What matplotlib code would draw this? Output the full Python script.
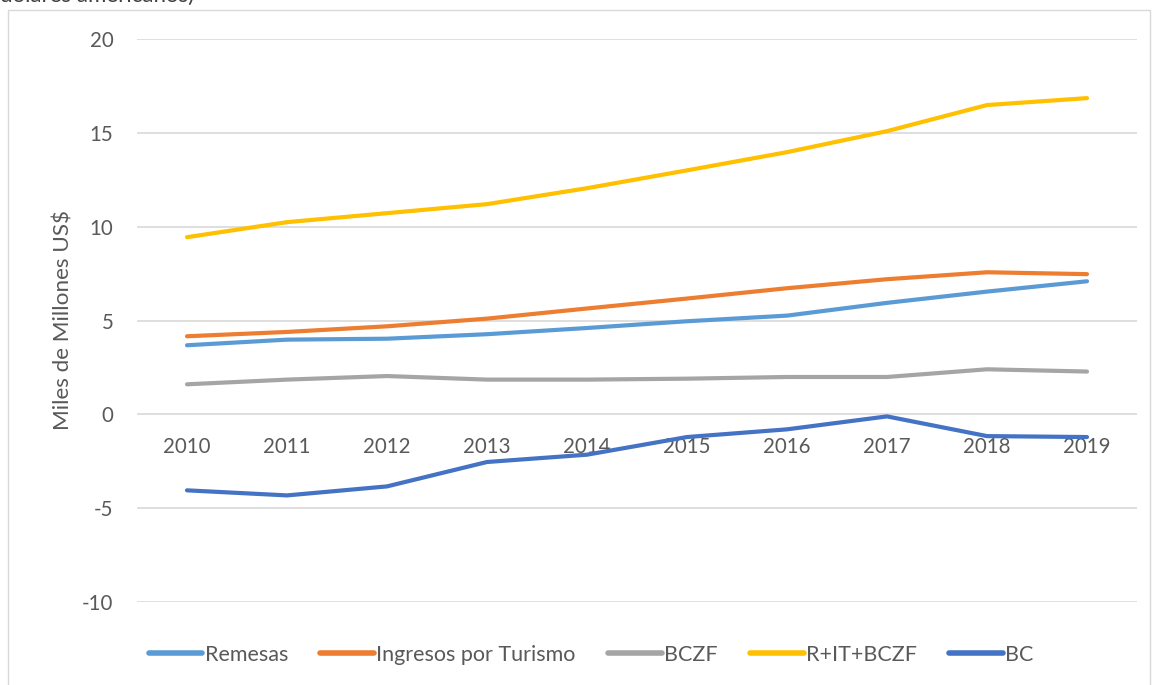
import matplotlib
matplotlib.use("Agg")
import matplotlib.pyplot as plt
import matplotlib.patches as patches

years = [2010, 2011, 2012, 2013, 2014, 2015, 2016, 2017, 2018, 2019]
remesas = [3.68, 3.98, 4.03, 4.27, 4.60, 4.96, 5.26, 5.94, 6.54, 7.09]
turismo = [4.16, 4.39, 4.69, 5.10, 5.64, 6.17, 6.72, 7.20, 7.57, 7.47]
bczf = [1.60, 1.85, 2.04, 1.85, 1.85, 1.90, 1.99, 1.99, 2.40, 2.28]
r_it_bczf = [9.44, 10.24, 10.72, 11.20, 12.05, 13.00, 13.97, 15.09, 16.48, 16.85]
bc = [-4.05, -4.32, -3.84, -2.54, -2.15, -1.21, -0.80, -0.11, -1.16, -1.21]

series = [
    ("Remesas", remesas, "#5B9BD5"),
    ("Ingresos por Turismo", turismo, "#ED7D31"),
    ("BCZF", bczf, "#A5A5A5"),
    ("R+IT+BCZF", r_it_bczf, "#FFC000"),
    ("BC", bc, "#4472C4"),
]

plt.rcParams['font.family'] = ['Lato', 'DejaVu Sans']
plt.rcParams['axes.unicode_minus'] = False
text_color = '#595959'

fig = plt.figure(figsize=(11.52, 6.85), dpi=100, facecolor='white')
ax = fig.add_axes([137 / 1152, 1 - 602 / 685, 1000 / 1152, 563 / 685])

# chart area border and the caption cut off above it
fig.patches.append(patches.Rectangle((8 / 1152, -0.05), 1142 / 1152, 1.05 - 10 / 685,
                                     transform=fig.transFigure, fill=False,
                                     edgecolor='#D9D9D9', linewidth=1))
fig.text(0.0, 1 - 2 / 685, "dólares americanos)", fontsize=16, color='#404040',
         ha='left', va='baseline')

for name, vals, color in series:
    ax.plot(years, vals, color=color, linewidth=3, label=name,
            solid_capstyle='round', solid_joinstyle='round', zorder=3)

ax.set_xlim(2009.5, 2019.5)
ax.set_ylim(-10, 20)
ax.set_yticks([-10, -5, 0, 5, 10, 15, 20])
ax.set_xticks(years)
ax.grid(True, axis='y', color='#D9D9D9', linewidth=1.2, zorder=0)
ax.set_axisbelow(True)

for s in ['top', 'right', 'left', 'bottom']:
    ax.spines[s].set_visible(False)
ax.spines['bottom'].set_position(('data', 0))

ax.tick_params(axis='x', length=0, pad=16, labelsize=14.8, labelcolor=text_color)
ax.tick_params(axis='y', length=0, pad=17, labelsize=14.8, labelcolor=text_color)
ax.set_ylabel("Miles de Millones US$", fontsize=16.2, color=text_color, labelpad=6)

leg = fig.legend(loc='center', bbox_to_anchor=(0.513, 1 - 655 / 685), ncol=5,
                 frameon=False, fontsize=15.5, handlelength=2.5, handletextpad=0.1,
                 columnspacing=1.5)
for t in leg.get_texts():
    t.set_color(text_color)
for h in leg.legend_handles:
    h.set_linewidth(4)
    h.set_solid_capstyle('round')

fig.savefig("out.png", dpi=100, facecolor='white')
